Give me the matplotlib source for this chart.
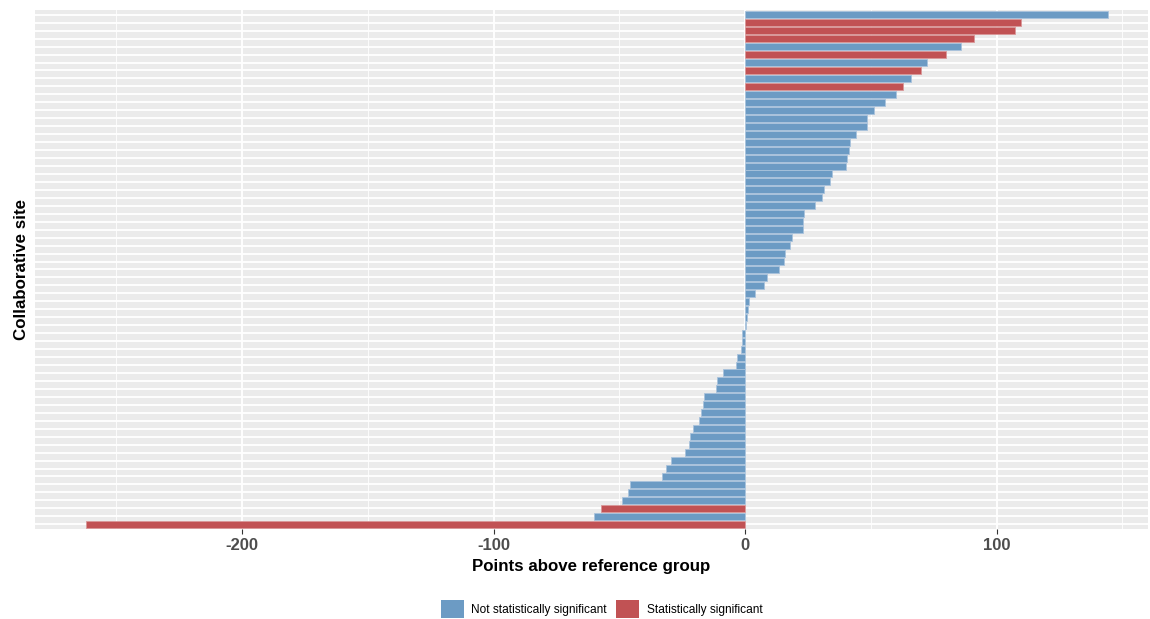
import matplotlib
matplotlib.use("Agg")
import matplotlib.pyplot as plt
from matplotlib.patches import Patch
import numpy as np

plt.rcParams['font.family'] = ['Liberation Sans', 'DejaVu Sans']
plt.rcParams['axes.unicode_minus'] = False

# points above reference group, one per collaborative site (sorted, top to bottom)
points = [144.2, 109.9, 107.5, 91.1, 86.0, 79.7, 72.5, 70.0, 65.9, 62.6,
          60.2, 55.5, 51.3, 48.6, 48.4, 44.3, 41.6, 41.2, 40.6, 40.0,
          34.6, 33.9, 31.4, 30.5, 28.0, 23.5, 23.1, 22.9, 18.7, 18.0,
          15.9, 15.5, 13.5, 8.9, 7.4, 4.1, 1.5, 1.3, 0.7, 0.5,
          -1.1, -1.3, -1.5, -3.4, -3.6, -8.9, -11.0, -11.4, -16.3, -16.8,
          -17.5, -18.3, -20.5, -21.7, -22.1, -23.9, -29.4, -31.3, -33.0, -45.6,
          -46.7, -48.9, -57.1, -60.0, -262.0]
# sites (1-based, top to bottom) that are statistically significant
significant_sites = [2, 3, 4, 6, 8, 10, 63, 65]
sites = ["Site %d" % (i + 1) for i in range(len(points))]
groups = ["Statistically significant" if (i + 1) in significant_sites
          else "Not statistically significant" for i in range(len(points))]

colors = {"Not statistically significant": "#6c9bc4",
          "Statistically significant": "#c15254"}
edges = {"Not statistically significant": "#a9c3dc",
         "Statistically significant": "#d99899"}

fig = plt.figure(figsize=(11.5, 6.19), dpi=100)
ax = fig.add_axes([35 / 1150, 1 - 529 / 619, 1113 / 1150, 519 / 619])
ax.set_facecolor("#ebebeb")

y = np.arange(len(points))
ax.barh(y, points, height=0.88,
        color=[colors[g] for g in groups],
        edgecolor=[edges[g] for g in groups], linewidth=0.6, zorder=3)

ax.set_ylim(len(points) - 0.4, -0.6)
ax.set_xlim(-282.3, 160.2)
ax.set_yticks(y)
ax.set_yticklabels([])
ax.tick_params(axis="y", length=0)
ax.set_xticks([-200, -100, 0, 100])
ax.set_xticks([-250, -150, -50, 50, 150], minor=True)
ax.tick_params(axis="x", which="major", length=3.5, width=0.8, color="#333333",
               pad=3, labelsize=12, labelcolor="#4d4d4d")
ax.tick_params(axis="x", which="minor", length=0)
for lab in ax.get_xticklabels():
    lab.set_fontweight("bold")

ax.grid(True, which="major", color="white", linewidth=1.3, zorder=0)
ax.grid(True, which="minor", axis="x", color="white", linewidth=0.6, zorder=0)
ax.set_axisbelow(True)
for s in ax.spines.values():
    s.set_visible(False)

ax.set_xlabel("Points above reference group", fontsize=12.2, fontweight="bold", labelpad=4)
ax.set_ylabel("Collaborative site", fontsize=12.2, fontweight="bold", labelpad=1)

handles = [Patch(facecolor=colors[k], edgecolor="none", label=k) for k in colors]
fig.legend(handles=handles, loc="center", bbox_to_anchor=(0.523, 1 - 609 / 619),
           ncol=2, frameon=False, fontsize=8.6, handlelength=1.95, handleheight=2.0,
           handletextpad=0.6, columnspacing=0.8)

fig.savefig("out.png", dpi=100)
